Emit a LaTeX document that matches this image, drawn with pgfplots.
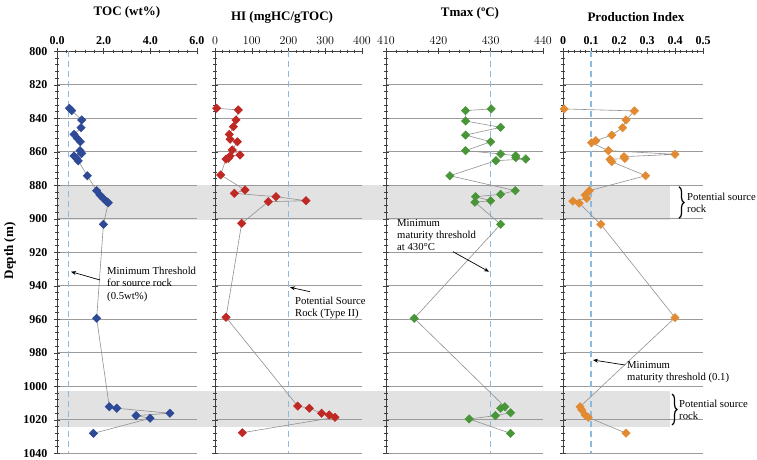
\documentclass[border=0pt]{standalone}
\usepackage{fontspec}
\setmainfont{Liberation Serif}
\usepackage{pgfplots}
\pgfplotsset{compat=1.18}
\usetikzlibrary{arrows.meta,decorations.pathreplacing}

\definecolor{tocc}{RGB}{46,74,150}
\definecolor{hic}{RGB}{192,40,36}
\definecolor{tmc}{RGB}{72,150,56}
\definecolor{pic}{RGB}{226,138,50}
\definecolor{dashc}{RGB}{140,185,222}
\definecolor{gridc}{RGB}{155,155,155}
\definecolor{bandc}{RGB}{226,226,226}
\definecolor{linec}{RGB}{145,145,145}

\pgfplotstableread{
depth toc
834.0 0.53
835.4 0.63
841.0 1.06
845.6 1.03
849.6 0.73
852.0 0.87
854.0 1.00
859.3 0.99
861.0 1.06
862.5 0.73
863.9 0.84
865.4 0.91
874.3 1.30
883.2 1.70
885.8 1.84
887.8 1.98
889.8 2.13
890.4 2.20
903.3 1.99
959.4 1.70
1012.2 2.24
1013.1 2.56
1016.1 4.84
1017.5 3.39
1019.1 3.99
1028.1 1.56
}\toctab

\pgfplotstableread{
depth hi
834.0 4.5
835.0 63.5
841.0 57
845.0 50
849.6 39
852.5 41
854.0 61
858.9 47
861.9 68
862.5 41
863.9 36
864.3 30
873.8 15.4
882.8 81.6
884.8 52.6
886.8 166
889.2 247.6
889.8 145
902.7 72.6
958.8 30
1011.8 225
1013.1 256.6
1016.1 290
1017.1 311
1018.5 326.5
1027.7 74.4
}\hitab

\pgfplotstableread{
depth tmax
834.4 430.1
835.4 425.2
841.6 425.2
845.4 431.9
850.0 425.2
854.0 430.0
859.3 425.2
861.3 431.9
862.3 434.8
863.5 434.8
864.3 436.7
865.3 431.0
874.3 422.2
883.2 434.7
885.4 431.9
886.8 427.1
889.2 430.0
890.1 427.0
903.3 431.9
959.4 415.4
1012.2 432.7
1013.1 431.9
1015.8 433.8
1017.5 430.9
1019.5 425.9
1028.1 433.8
}\tmtab

\pgfplotstableread{
depth pi
834.4 0.004
835.6 0.255
841.0 0.225
845.6 0.213
850.0 0.174
853.4 0.117
854.6 0.102
859.3 0.162
861.5 0.40
862.9 0.218
864.0 0.221
864.5 0.168
865.9 0.174
874.3 0.295
883.2 0.094
885.8 0.079
887.8 0.085
889.4 0.035
890.7 0.058
903.3 0.135
959.0 0.40
1012.2 0.061
1014.1 0.067
1017.1 0.079
1018.5 0.090
1028.0 0.225
}\pitab

\pgfplotsset{
  panel/.style={
    scale only axis, height=402pt,
    ymin=800, ymax=1040, y dir=reverse,
    axis x line*=top, axis y line*=left,
    axis line style={-, black!75, line width=0.6pt},
    ytick={800,820,...,1040}, minor y tick num=4,
    yticklabels={},
    ymajorgrids, grid style={gridc, line width=0.8pt},
    tick style={black!75, line width=0.5pt},
    major tick length=6pt, minor tick length=3.5pt,
    tick align=center,
    xticklabel style={font=\fontsize{12}{13}\selectfont\bfseries},
    yticklabel style={font=\fontsize{12}{13}\selectfont\bfseries, xshift=-3pt},
    clip=false,
  },
  dat/.style={linec, line width=0.6pt, mark=square*, mark size=2.9pt,
    mark options={rotate=45, fill=#1, draw=#1, solid}},
  thr/.style={dashc, line width=1.2pt, dash pattern=on 6pt off 4pt},
}

\begin{document}
\begin{tikzpicture}
\useasboundingbox (0,0) rectangle (757pt,460pt);

% background bands
\begin{axis}[at={(0pt,408.7pt)}, anchor=north west, scale only axis,
  width=757pt, height=402pt, xmin=0, xmax=757, ymin=800, ymax=1040,
  y dir=reverse, hide axis]
\addplot[fill=bandc, draw=none] coordinates {(57,880) (670,880) (670,901) (57,901)} -- cycle;
\addplot[fill=bandc, draw=none] coordinates {(57,1003) (670,1003) (670,1024) (57,1024)} -- cycle;
\end{axis}

% TOC
\begin{axis}[panel, at={(57pt,408.7pt)}, anchor=north west, width=140pt,
  xmin=0, xmax=6, xtick={0,2,4,6}, xticklabels={0.0,2.0,4.0,6.0}, minor x tick num=4,
  yticklabels={800,820,840,860,880,900,920,940,960,980,1000,1020,1040}]
\addplot[thr] coordinates {(0.5,800) (0.5,1040)};
\addplot[dat=tocc] table[x=toc, y=depth] {\toctab};
\end{axis}

% HI
\begin{axis}[panel, at={(215pt,408.7pt)}, anchor=north west, width=147pt,
  xmin=0, xmax=400, xtick={0,100,200,300,400}, minor x tick num=4]
\addplot[thr] coordinates {(200,800) (200,1040)};
\addplot[dat=hic] table[x=hi, y=depth] {\hitab};
\end{axis}

% Tmax
\begin{axis}[panel, at={(386pt,408.7pt)}, anchor=north west, width=157pt,
  xmin=410, xmax=440, xtick={410,420,430,440}, minor x tick num=4]
\addplot[thr] coordinates {(430,800) (430,1040)};
\addplot[dat=tmc] table[x=tmax, y=depth] {\tmtab};
\end{axis}

% PI
\begin{axis}[panel, at={(563pt,408.7pt)}, anchor=north west, width=140pt,
  xmin=0, xmax=0.5, xtick={0,0.1,0.2,0.3,0.4,0.5}, xticklabels={0,0.1,0.2,0.3,0.4,0.5}, minor x tick num=4]
\addplot[thr] coordinates {(0.1,800) (0.1,1040)};
\addplot[dat=pic] table[x=pi, y=depth] {\pitab};
\end{axis}

% titles
\begin{scope}[every node/.style={font=\fontsize{13}{15}\selectfont\bfseries}]
\node at (127pt,448pt) {TOC (wt\%)};
\node at (282pt,443pt) {HI (mgHC/gTOC)};
\node at (470pt,447pt) {Tmax (ºC)};
\node at (636pt,443pt) {Production Index};
\node[rotate=90] at (10pt,209pt) {Depth (m)};
\end{scope}

% annotations
\begin{scope}[every node/.style={font=\fontsize{10.7}{12.3}\selectfont, align=left, anchor=north west, inner sep=0pt}]
\node at (107pt,193pt) {Minimum Threshold\\for source rock\\(0.5wt\%)};
\node at (295pt,163.5pt) {Potential Source\\Rock (Type II)};
\node at (397pt,241pt) {Minimum\\maturity threshold\\at 430°C};
\node at (687pt,267.5pt) {Potential source\\rock};
\node at (679pt,60pt) {Potential source\\rock};
\node at (627pt,99pt) {Minimum\\maturity threshold (0.1)};
\end{scope}
\begin{scope}[line width=0.7pt, -{Stealth[length=5pt,width=4pt]}]
\draw (100pt,180pt) -- (71pt,188.3pt);
\draw (310pt,168.3pt) -- (290pt,172.7pt);
\draw (453pt,208.3pt) -- (489pt,188.3pt);
\draw (625pt,95pt) -- (593pt,100pt);
\end{scope}
\draw[decorate, decoration={brace, amplitude=5pt}, line width=1.2pt] (679pt,273.3pt) -- (679pt,241.7pt);
\draw[decorate, decoration={brace, amplitude=5pt}, line width=1.2pt] (672pt,66pt) -- (672pt,35pt);
\end{tikzpicture}
\end{document}
